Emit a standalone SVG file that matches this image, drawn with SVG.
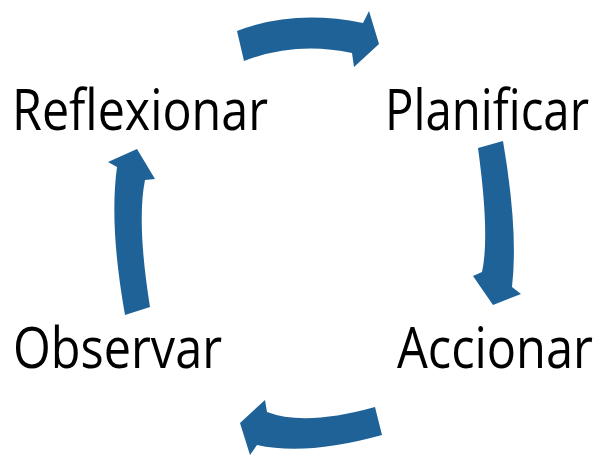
<svg xmlns="http://www.w3.org/2000/svg" width="600" height="455" viewBox="0 0 600 455">
<style>
.lbl{font-family:"Open Sans","Noto Sans","Liberation Sans",sans-serif;font-size:48px;fill:#000;}
.arr{fill:#1f6298;stroke:none;}
</style>
<rect width="600" height="455" fill="#fff"/>
<g id="connectors">
<path class="arr" d="M237,31 Q294,9 363,23 L369,11 L379,44 L354,67 L352,53 Q296,41 244,61 Z"/>
<path class="arr" d="M503,141 Q518.5,232 512,287 L521,294 L493,305 L473,276 L482,272 Q490,236 478,148 Z"/>
<path class="arr" d="M375,407 Q305,426.5 267,412 L265,400 L240,423 L250,455 L257,445 Q306.5,456 382,435 Z"/>
<path class="arr" d="M150,307 Q136.5,222.5 145,180 L155,179 L137,149 L108,162 L117,167 Q109,225 125,315 Z"/>
</g>
<g id="node-reflexionar"><text class="lbl" transform="translate(12,130) scale(1,1.17)" textLength="256" lengthAdjust="spacingAndGlyphs">Reflexionar</text></g>
<g id="node-planificar"><text class="lbl" transform="translate(385,130) scale(1,1.17)" textLength="204" lengthAdjust="spacingAndGlyphs">Planificar</text></g>
<g id="node-accionar"><text class="lbl" transform="translate(397,368) scale(1,1.17)" textLength="196" lengthAdjust="spacingAndGlyphs">Accionar</text></g>
<g id="node-observar"><text class="lbl" transform="translate(13,368) scale(1,1.17)" textLength="209" lengthAdjust="spacingAndGlyphs">Observar</text></g>
</svg>
